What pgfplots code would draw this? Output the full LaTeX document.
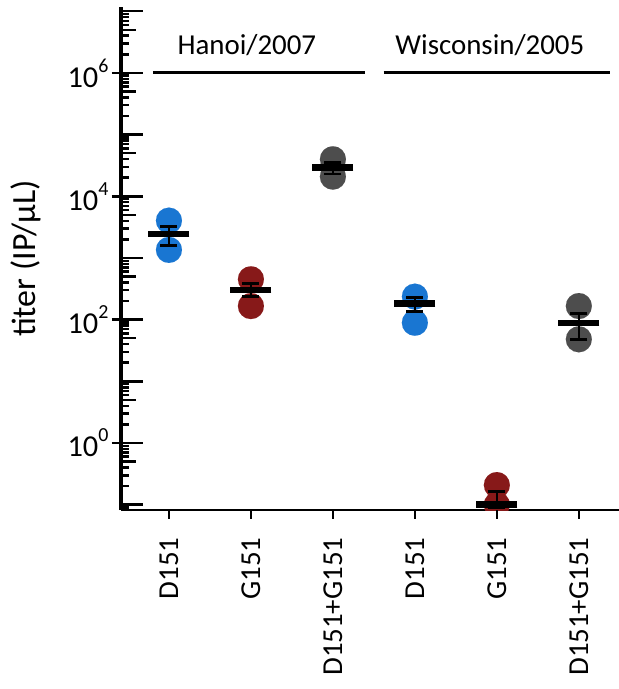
\documentclass[border=0pt]{standalone}
\usepackage{pgfplots}
\pgfplotsset{compat=1.18}
\usepackage{fontspec}
\setmainfont{Carlito}
\definecolor{cblue}{HTML}{1976D2}
\definecolor{cred}{HTML}{871919}
\definecolor{cgray}{HTML}{4D4D4D}
\newcommand{\tp}[1]{10\raisebox{15bp}{\fontsize{20}{21}\selectfont #1}}
\begin{document}
\begin{tikzpicture}
\begin{axis}[ymode=log, scale only axis, width=498bp, height=503bp,
  xmin=-0.585, xmax=5.49, ymin=0.082, ymax=1.17e7, clip marker paths=true,
  axis x line=bottom, axis y line=left, axis line style={-},
  x axis line style={line width=2.2bp},
  y axis line style={line width=3.5bp},
  xtick={0,1,2,3,4,5},
  xticklabels={D151,G151,D151+G151,D151,G151,D151+G151},
  x tick label style={yshift=-15bp, rotate=90, anchor=east, font=\fontsize{29}{30}\selectfont},
  ytick={1,100,10000,1000000},
  yticklabels={\tp{0},\tp{2},\tp{4},\tp{6}},
  y tick label style={font=\fontsize{30.5}{32}\selectfont},
  yminorticks=false,
  tick align=outside, major tick length=9bp,
  tick style={line width=2.5bp, black},
  ylabel={titer (IP/µL)}, ylabel shift=20bp,
  ylabel style={font=\fontsize{34}{36}\selectfont},
]
% individual points
\addplot[only marks, color=cblue, mark=*, mark size=13bp, mark options={line width=0.1bp, fill=cblue}]
  coordinates {(0,4030) (0,1350) (3,236) (3,89)};
\addplot[only marks, color=cred, mark=*, mark size=13bp, mark options={line width=0.1bp, fill=cred}]
  coordinates {(1,451) (1,166) (4,0.208) (4,0.1)};
\addplot[only marks, color=cgray, mark=*, mark size=13bp, mark options={line width=0.1bp, fill=cgray}]
  coordinates {(2,39800) (2,20800) (5,166) (5,48)};
% means with error bars
\addplot[only marks, color=black, mark=-, mark size=20.5bp, mark options={line width=6.5bp},
  error bars/.cd, y dir=both, y explicit,
  error bar style={line width=2.6bp, black},
  error mark options={rotate=90, mark size=8.5bp, line width=2.6bp, black}]
  coordinates {
    (0,2450) += (0,764) -= (0,865)
    (1,303) += (0,86) -= (0,67)
    (2,29100) += (0,6000) -= (0,6100)
    (3,184) += (0,46) -= (0,49)
    (4,0.101) += (0,0.061) -= (0,0.011)
    (5,89) += (0,38) -= (0,41)
  };
\draw[line width=2.8bp] (axis cs:-0.195,1e6) -- (axis cs:2.39,1e6);
\draw[line width=2.8bp] (axis cs:2.62,1e6) -- (axis cs:5.38,1e6);
\node[anchor=base, font=\fontsize{29}{30}\selectfont] at (axis cs:0.95,1.96e6) {Hanoi/2007};
\node[anchor=base, font=\fontsize{29}{30}\selectfont] at (axis cs:3.915,1.96e6) {Wisconsin/2005};
\end{axis}
% outward ticks (x and labelled y)
\begin{axis}[ymode=log, scale only axis, width=498bp, height=503bp,
  xmin=-0.585, xmax=5.49, ymin=0.082, ymax=1.17e7,
  axis x line=bottom, axis y line=left, axis line style={draw=none},
  xtick={0,1,2,3,4,5}, xticklabels={,,,,,},
  ytick={1,100,10000,1000000}, yticklabels={,,,}, yminorticks=false,
  tick align=outside, major tick length=9bp,
  tick style={line width=2.5bp, black}]
\end{axis}
% inward decade and minor ticks
\begin{axis}[ymode=log, scale only axis, width=498bp, height=503bp,
  xmin=-0.585, xmax=5.49, ymin=0.082, ymax=1.17e7,
  hide x axis, axis y line=left, axis line style={draw=none},
  yticklabels={,,,,,,,,,}, tick align=inside,
  tick style={line width=2.5bp, black},
  ytick={0.1,1,10,100,1000,10000,100000,1000000,10000000},
  major tick length=22bp,
  minor ytick={0.09,0.2,0.3,0.4,0.6,0.7,0.8,0.9,2,3,4,6,7,8,9,20,30,40,60,70,80,90,200,300,400,600,700,800,900,2000,3000,4000,6000,7000,8000,9000,20000,30000,40000,60000,70000,80000,90000,200000,300000,400000,600000,700000,800000,900000,2000000,3000000,4000000,6000000,7000000,8000000,9000000},
  minor tick length=8bp]
\end{axis}
% inward ticks at 5 x 10^n
\begin{axis}[ymode=log, scale only axis, width=498bp, height=503bp,
  xmin=-0.585, xmax=5.49, ymin=0.082, ymax=1.17e7,
  hide x axis, axis y line=left, axis line style={draw=none},
  yticklabels={,,,,,,,,}, tick align=inside,
  tick style={line width=2.5bp, black},
  ytick={0.5,5,50,500,5000,50000,500000,5000000},
  yminorticks=false,
  major tick length=15bp]
\end{axis}
\pgfresetboundingbox
\path[use as bounding box] (-121bp,-179bp) rectangle (498bp,510bp);
\end{tikzpicture}
\end{document}
